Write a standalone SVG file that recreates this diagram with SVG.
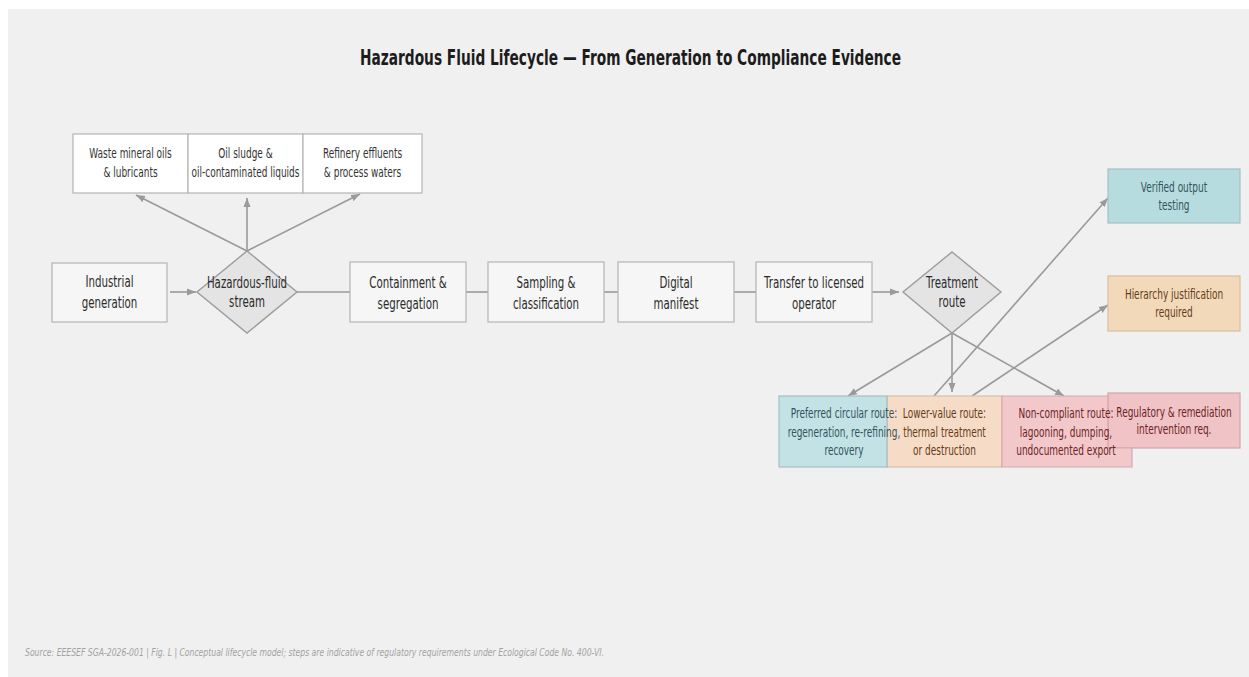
<svg xmlns="http://www.w3.org/2000/svg" width="1249" height="677" viewBox="0 0 1249 677">
  <defs>
    <style>
      .lbl { font-family: "DejaVu Sans", "Liberation Sans", sans-serif; text-anchor: middle; }
      .f16 { font-size: 16px; fill: #2b2b2b; }
      .f14 { font-size: 14px; fill: #333333; }
      .box { fill: #f6f6f6; stroke: #b4b4b4; stroke-width: 1.2; }
      .src { fill: #ffffff; stroke: #b4b4b4; stroke-width: 1.2; }
      .dia { fill: #e4e4e4; stroke: #9c9c9c; stroke-width: 1.4; }
      .teal { fill: #c2e2e6; stroke: #a9bfc2; stroke-width: 1.2; }
      .teal2 { fill: #b6dcdf; stroke: #a3c0c3; stroke-width: 1.2; }
      .peach { fill: #f6dcc6; stroke: #d8c0a8; stroke-width: 1.2; }
      .peach2 { fill: #f2d9b9; stroke: #d6bea0; stroke-width: 1.2; }
      .rose { fill: #f3c8cb; stroke: #d6a9ad; stroke-width: 1.2; }
      .rose2 { fill: #f0c3c6; stroke: #d3a6aa; stroke-width: 1.2; }
      .tt { fill: #34535b; }
      .tp { fill: #663b18; }
      .tr { fill: #6c1f25; }
      .edge { stroke: #9a9a9a; stroke-width: 1.6; fill: none; }
      .arr { marker-end: url(#head); }
    </style>
    <marker id="head" markerUnits="userSpaceOnUse" markerWidth="10" markerHeight="8" refX="9" refY="4" orient="auto">
      <path d="M0,0.5 L9,4 L0,7.5 Z" fill="#9a9a9a"/>
    </marker>
  </defs>

  <!-- page and panel -->
  <rect x="0" y="0" width="1249" height="677" fill="#ffffff"/>
  <rect x="8" y="9" width="1241" height="668" fill="#f0f0f0"/>

  <text x="360" y="65" font-family="'DejaVu Sans', 'Liberation Sans', sans-serif" font-weight="bold" font-size="21" fill="#1c1c1c" textLength="541" lengthAdjust="spacingAndGlyphs">Hazardous Fluid Lifecycle — From Generation to Compliance Evidence</text>

  <!-- connectors -->
  <g id="connectors">
    <line class="edge arr" x1="170" y1="292" x2="196" y2="292"/>
    <line class="edge arr" x1="247" y1="251" x2="136" y2="195"/>
    <line class="edge arr" x1="247" y1="251" x2="247" y2="198"/>
    <line class="edge arr" x1="247" y1="251" x2="360" y2="194"/>
    <line class="edge" x1="297" y1="292" x2="350" y2="292"/>
    <line class="edge" x1="466" y1="292" x2="488" y2="292"/>
    <line class="edge" x1="604" y1="292" x2="618" y2="292"/>
    <line class="edge" x1="734" y1="292" x2="756" y2="292"/>
    <line class="edge arr" x1="872" y1="292" x2="899" y2="292"/>
    <line class="edge arr" x1="952" y1="333" x2="848" y2="396"/>
    <line class="edge arr" x1="952" y1="333" x2="952" y2="392"/>
    <line class="edge arr" x1="952" y1="333" x2="1064" y2="396"/>
    <line class="edge arr" x1="934" y1="396" x2="1108" y2="198"/>
    <line class="edge arr" x1="972" y1="396" x2="1108" y2="305"/>
  </g>

  <!-- source streams -->
  <g id="waste-oils">
    <rect class="src" x="73" y="134" width="115" height="59"/>
    <text class="lbl f14" transform="translate(130.5 0) scale(0.64 1)"><tspan x="0" y="158">Waste mineral oils</tspan><tspan x="0" y="177">&amp; lubricants</tspan></text>
  </g>
  <g id="oil-sludge">
    <rect class="src" x="188" y="134" width="115" height="59"/>
    <text class="lbl f14" transform="translate(245.5 0) scale(0.64 1)"><tspan x="0" y="158">Oil sludge &amp;</tspan><tspan x="0" y="177">oil-contaminated liquids</tspan></text>
  </g>
  <g id="refinery-effluents">
    <rect class="src" x="303" y="134" width="119" height="59"/>
    <text class="lbl f14" transform="translate(362.5 0) scale(0.64 1)"><tspan x="0" y="158">Refinery effluents</tspan><tspan x="0" y="177">&amp; process waters</tspan></text>
  </g>

  <!-- main process chain -->
  <g id="industrial-generation">
    <rect class="box" x="52" y="263" width="115" height="59"/>
    <text class="lbl f16" transform="translate(109.5 0) scale(0.64 1)"><tspan x="0" y="287">Industrial</tspan><tspan x="0" y="308">generation</tspan></text>
  </g>
  <g id="hazardous-fluid-stream">
    <polygon class="dia" points="247,251 297,292 247,333 197,292"/>
    <text class="lbl f16" transform="translate(247 0) scale(0.64 1)"><tspan x="0" y="288">Hazardous-fluid</tspan><tspan x="0" y="307">stream</tspan></text>
  </g>
  <g id="containment">
    <rect class="box" x="350" y="262" width="116" height="60"/>
    <text class="lbl f16" transform="translate(408 0) scale(0.64 1)"><tspan x="0" y="288">Containment &amp;</tspan><tspan x="0" y="309">segregation</tspan></text>
  </g>
  <g id="sampling">
    <rect class="box" x="488" y="262" width="116" height="60"/>
    <text class="lbl f16" transform="translate(546 0) scale(0.64 1)"><tspan x="0" y="288">Sampling &amp;</tspan><tspan x="0" y="309">classification</tspan></text>
  </g>
  <g id="digital-manifest">
    <rect class="box" x="618" y="262" width="116" height="60"/>
    <text class="lbl f16" transform="translate(676 0) scale(0.64 1)"><tspan x="0" y="288">Digital</tspan><tspan x="0" y="309">manifest</tspan></text>
  </g>
  <g id="transfer">
    <rect class="box" x="756" y="262" width="116" height="60"/>
    <text class="lbl f16" transform="translate(814 0) scale(0.64 1)"><tspan x="0" y="288">Transfer to licensed</tspan><tspan x="0" y="309">operator</tspan></text>
  </g>
  <g id="treatment-route">
    <polygon class="dia" points="952,252 1001,292 952,333 903,292"/>
    <text class="lbl f16" transform="translate(952 0) scale(0.64 1)"><tspan x="0" y="288">Treatment</tspan><tspan x="0" y="307">route</tspan></text>
  </g>

  <!-- evidence requirements -->
  <g id="verified-output">
    <rect class="teal2" x="1108" y="169" width="132" height="54"/>
    <text class="lbl f14 tt" transform="translate(1174 0) scale(0.64 1)"><tspan x="0" y="192">Verified output</tspan><tspan x="0" y="210">testing</tspan></text>
  </g>
  <g id="hierarchy-justification">
    <rect class="peach2" x="1108" y="276" width="132" height="55"/>
    <text class="lbl f14 tp" transform="translate(1174 0) scale(0.64 1)"><tspan x="0" y="299">Hierarchy justification</tspan><tspan x="0" y="317">required</tspan></text>
  </g>
  <g id="regulatory-intervention">
    <rect class="rose2" x="1108" y="393" width="132" height="55"/>
    <text class="lbl f14 tr" transform="translate(1174 0) scale(0.64 1)"><tspan x="0" y="417">Regulatory &amp; remediation</tspan><tspan x="0" y="434">intervention req.</tspan></text>
  </g>

  <!-- treatment outcomes -->
  <g id="lower-value-route">
    <rect class="peach" x="887" y="396" width="115" height="71"/>
    <text class="lbl f14 tp" transform="translate(944.5 0) scale(0.64 1)"><tspan x="0" y="418">Lower-value route:</tspan><tspan x="0" y="437">thermal treatment</tspan><tspan x="0" y="455">or destruction</tspan></text>
  </g>
  <g id="preferred-route">
    <rect class="teal" x="779" y="396" width="108" height="71"/>
    <text class="lbl f14 tt" transform="translate(844 0) scale(0.64 1)"><tspan x="0" y="418">Preferred circular route:</tspan><tspan x="0" y="437">regeneration, re-refining,</tspan><tspan x="0" y="455">recovery</tspan></text>
  </g>
  <g id="non-compliant-route">
    <!-- box tucked beneath the intervention box on its upper-right corner -->
    <polygon class="rose" points="1002,396 1108,396 1108,448 1132,448 1132,467 1002,467"/>
    <text class="lbl f14 tr" transform="translate(1066 0) scale(0.64 1)"><tspan x="0" y="418">Non-compliant route:</tspan><tspan x="0" y="437">lagooning, dumping,</tspan><tspan x="0" y="455">undocumented export</tspan></text>
  </g>

  <text x="25" y="656" font-family="'DejaVu Sans', 'Liberation Sans', sans-serif" font-style="italic" font-size="11" fill="#a2a2a2" textLength="579" lengthAdjust="spacingAndGlyphs">Source: EEESEF SGA-2026-001  |  Fig. L  |  Conceptual lifecycle model; steps are indicative of regulatory requirements under Ecological Code No. 400-VI.</text>
</svg>
